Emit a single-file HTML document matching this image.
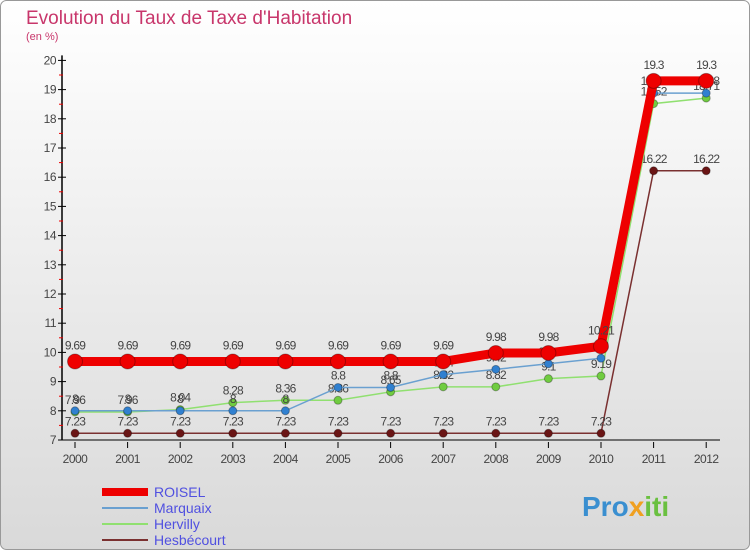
<!DOCTYPE html>
<html><head><meta charset="utf-8"><style>
body{margin:0;}
#wrap{width:750px;height:550px;position:relative;overflow:hidden;font-family:"Liberation Sans","DejaVu Sans",sans-serif;}
</style></head><body>
<div id="wrap">
<svg id="chart" width="750" height="550">
<defs><linearGradient id="bg" x1="0" y1="0" x2="0" y2="1"><stop offset="0" stop-color="#ffffff"/><stop offset="1" stop-color="#d9d9d9"/></linearGradient></defs>
<rect x="0.5" y="0.5" width="749" height="549" rx="6" fill="url(#bg)" stroke="#999"/>
<text x="26" y="24" font-size="19" fill="#c8366b">Evolution du Taux de Taxe d'Habitation</text>
<text x="26" y="40" font-size="11" fill="#c8366b">(en %)</text>
<g id="axes"></g><g id="series"></g><g id="legend"></g>
<text x="582" y="516" font-size="28" font-weight="bold" fill="#3a8fd0">Pro<tspan fill="#f0a020">x</tspan><tspan fill="#6ac040">iti</tspan></text>
</svg>
</div>
<script>
const years=[2000,2001,2002,2003,2004,2005,2006,2007,2008,2009,2010,2011,2012];
const roisel=[9.69,9.69,9.69,9.69,9.69,9.69,9.69,9.69,9.98,9.98,10.21,19.3,19.3];
const marquaix=[8,8,8,8,8,8.8,8.8,9.24,9.42,9.61,9.8,18.88,18.88];
const hervilly=[7.96,7.96,8.04,8.28,8.36,8.36,8.65,8.82,8.82,9.1,9.19,18.52,18.71];
const hesbecourt=[7.23,7.23,7.23,7.23,7.23,7.23,7.23,7.23,7.23,7.23,7.23,16.22,16.22];
const yTicks=[7,8,9,10,11,12,13,14,15,16,17,18,19,20];
const NS="http://www.w3.org/2000/svg";
const xS=i=>75+i*52.6;
const yS=v=>440-(v-7)*29.2;
function mk(tag,at,parent,txt){const e=document.createElementNS(NS,tag);for(const k in at)e.setAttribute(k,at[k]);if(txt!==undefined)e.textContent=txt;parent.appendChild(e);return e;}
const axes=document.getElementById('axes');
let a=mk('line',{x1:62,y1:yS(20)-5,x2:62,y2:yS(7),stroke:'#000','stroke-width':1.5},axes);

a=mk('line',{x1:62,y1:yS(7),x2:720,y2:yS(7),stroke:'#000','stroke-width':1},axes);

yTicks.forEach(v=>{
 mk('line',{x1:58,y1:yS(v),x2:66,y2:yS(v),stroke:'#000'},axes);
 if(v<20)mk('line',{x1:59,y1:yS(v+0.5),x2:63,y2:yS(v+0.5),stroke:'#e00'},axes);
 const t=mk('text',{x:56,y:yS(v)+4,'font-size':12,'text-anchor':'end',fill:'#444','letter-spacing':'-0.5'},axes,String(v));
 
});
years.forEach((y,i)=>{
 mk('line',{x1:xS(i),y1:yS(7)+2,x2:xS(i),y2:yS(7)+8,stroke:'#000'},axes);
 const t=mk('text',{x:xS(i),y:yS(7)+23,'font-size':12,'text-anchor':'middle',fill:'#444','letter-spacing':'-0.5'},axes,String(y));
 
});
const series=[
 {n:'hesbecourt',d:hesbecourt,c:'#7a3030',w:1.5,r:4,f:'#6a1515',o:8},
 {n:'hervilly',d:hervilly,c:'#90e070',w:1.5,r:4,f:'#70cc40',o:8},
 {n:'marquaix',d:marquaix,c:'#6aa0d0',w:1.5,r:4,f:'#3080d0',o:8},
 {n:'roisel',d:roisel,c:'#ee0000',w:9,r:7.5,f:'#ee0000',o:12}];
const sg=document.getElementById('series');
series.forEach(s=>{
 const g=mk('g',{},sg);
 
 const p=mk('polyline',{points:s.d.map((v,i)=>xS(i)+','+yS(v)).join(' '),fill:'none',stroke:s.c,'stroke-width':s.w},g);
 
 s.d.forEach((v,i)=>{
  const c=mk('circle',{cx:xS(i),cy:yS(v),r:s.r,fill:s.f,stroke:'rgba(0,0,0,0.3)'},g);
  
  const t=mk('text',{x:xS(i),y:yS(v)-s.o,'font-size':12,'text-anchor':'middle',fill:'#444','letter-spacing':'-0.8'},g,String(v));
  
 });
});
const lg=document.getElementById('legend');
const legItems=[['ROISEL','#ee0000',8],['Marquaix','#6aa0d0',2],['Hervilly','#90e070',2],['Hesbécourt','#7a3030',2]];
legItems.forEach((l,i)=>{
 const y=492+i*16;
 const g=mk('g',{},lg);
 
 mk('line',{x1:102,y1:y,x2:148,y2:y,stroke:l[1],'stroke-width':l[2]},g);
 mk('text',{x:154,y:y+5,'font-size':14,fill:'#5050e0'},g,l[0]);
});
</script>
</body></html>
